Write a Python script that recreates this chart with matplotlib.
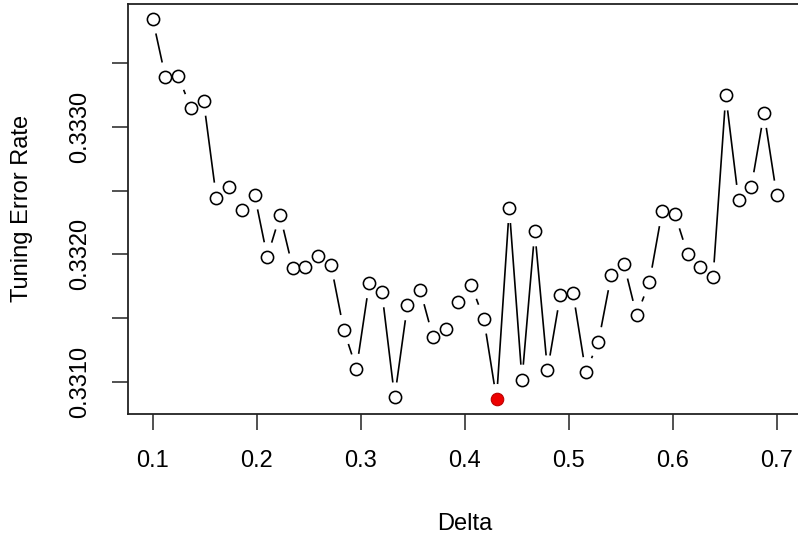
import numpy as np
import matplotlib
matplotlib.use("Agg")
import matplotlib.pyplot as plt

plt.rcParams['font.family'] = ['Liberation Sans', 'DejaVu Sans']

delta = np.linspace(0.1, 0.7, 50)
error_rate = [
    0.333849, 0.333391, 0.333401, 0.333148, 0.333205, 0.332446, 0.332528, 0.332348,
    0.332468, 0.331979, 0.332308, 0.331892, 0.331897, 0.331987, 0.331918, 0.331408,
    0.331102, 0.331772, 0.331701, 0.330877, 0.331599, 0.331722, 0.331353, 0.331416,
    0.331624, 0.331761, 0.331494, 0.330864, 0.332363, 0.331016, 0.332180, 0.331089,
    0.331677, 0.331699, 0.331076, 0.331312, 0.331834, 0.331924, 0.331520, 0.331779,
    0.332337, 0.332316, 0.332002, 0.331900, 0.331819, 0.333247, 0.332428, 0.332528,
    0.333109, 0.332462,
]
x_ticks = [0.1, 0.2, 0.3, 0.4, 0.5, 0.6, 0.7]
y_ticks = [0.3310, 0.3315, 0.3320, 0.3325, 0.3330, 0.3335]
y_ticklabels = ["0.3310", "", "0.3320", "", "0.3330", ""]

x = np.asarray(delta)
y = np.asarray(error_rate)

W, H = 798, 540
fig = plt.figure(figsize=(W / 100, H / 100), dpi=100)
ax = fig.add_axes([127.7 / W, 1 - 414.2 / H, (801.7 - 127.7) / W, (414.2 - 3.6) / H])

# R-style 4% axis extension
xr = x.max() - x.min()
yr = y.max() - y.min()
ax.set_xlim(x.min() - 0.04 * xr, x.max() + 0.04 * xr)
ax.set_ylim(y.min() - 0.04 * yr, y.max() + 0.04 * yr)

fs = 17
ax.set_xticks(x_ticks)
ax.set_xticklabels([f"{t:.1f}" for t in x_ticks], fontsize=fs)
ax.set_yticks(y_ticks)
ax.set_yticklabels(y_ticklabels, fontsize=fs, rotation=90, va='center')
ax.tick_params(axis='both', direction='out', length=11.5, width=1.1, color='#222222')
ax.tick_params(axis='x', pad=14.5)
ax.tick_params(axis='y', pad=14.5)
for sp in ax.spines.values():
    sp.set_linewidth(1.3)
    sp.set_color('#222222')

ax.set_xlabel("Delta", fontsize=fs)
ax.set_ylabel("Tuning Error Rate", fontsize=fs)
ax.xaxis.set_label_coords(0.5, -0.267)
ax.yaxis.set_label_coords(-0.157, 0.5)
ax.xaxis.label.set_va('center')
ax.yaxis.label.set_va('center')

# type="b": line segments with gaps around points (computed in display space)
fig.canvas.draw()
pts = ax.transData.transform(np.column_stack([x, y]))
gap = 15.0
inv = ax.transData.inverted()
for i in range(len(pts) - 1):
    p0, p1 = pts[i], pts[i + 1]
    d = p1 - p0
    L = np.hypot(*d)
    if L <= 2 * gap:
        continue
    u = d / L
    a = p0 + u * gap
    b = p1 - u * gap
    seg = inv.transform(np.array([a, b]))
    ax.plot(seg[:, 0], seg[:, 1], color='black', lw=1.2, solid_capstyle='butt')

imin = int(np.argmin(y))
mask = np.arange(len(x)) != imin
ax.plot(x[mask], y[mask], linestyle='none', marker='o', markersize=8.8,
        markerfacecolor='white', markeredgecolor='black', markeredgewidth=1.15)
ax.plot([x[imin]], [y[imin]], linestyle='none', marker='o', markersize=9,
        markerfacecolor='#ee0000', markeredgecolor='#bb0000', markeredgewidth=0.8)

fig.savefig("out.png", dpi=100)
